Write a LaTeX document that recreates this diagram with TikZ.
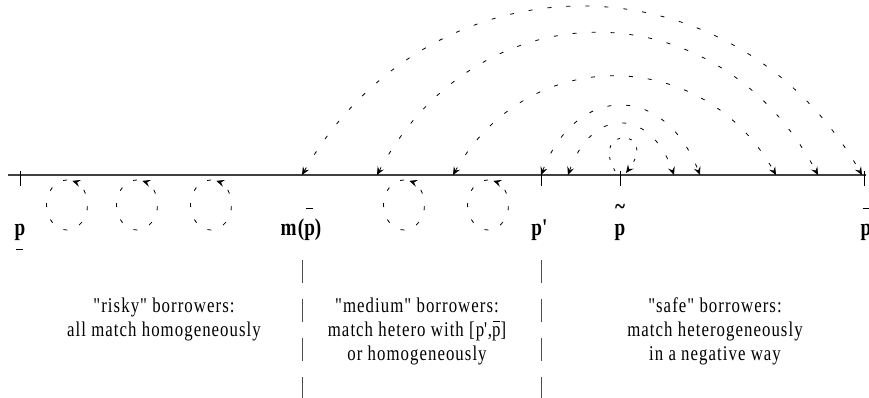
\documentclass[tikz,border=0pt]{standalone}
\usepackage{fontspec}
\setmainfont{Liberation Serif}
\newfontfamily\etroit[FakeStretch=0.8,LetterSpace=5]{Liberation Serif}
\usetikzlibrary{arrows.meta}

% accents poses loin de la lettre
\newcommand{\dessus}[2]{\ooalign{#2\cr\hidewidth\raisebox{#1}{\rule{7pt}{1.2pt}}\hidewidth\cr}}
\newcommand{\dessous}[1]{\ooalign{#1\cr\hidewidth\raisebox{-14pt}{\rule{7pt}{1.2pt}}\hidewidth\cr}}
\newcommand{\vague}[1]{\ooalign{#1\cr\hidewidth\raisebox{21pt}{\textasciitilde}\hidewidth\cr}}

\tikzset{
  pointe/.tip={Stealth[length=8pt,width=7pt,inset=3pt]},
  axe/.style={line width=1.2pt,black!75},
  cran/.style={line width=0.8pt},
  saut/.style={line width=0.8pt,dash pattern=on 4pt off 15pt,pointe-pointe},
  boucle/.style={line width=0.8pt,dash pattern=on 4pt off 13pt,-pointe},
  frontiere/.style={line width=0.8pt,black!70,dash pattern=on 23pt off 16pt},
  etiquette/.style={font=\etroit\bfseries\fontsize{24}{24}\selectfont,anchor=base,inner sep=0pt},
  texte/.style={font=\etroit\fontsize{21}{24}\selectfont,align=center,anchor=north,inner sep=0pt}
}

\begin{document}
\begin{tikzpicture}[x=1pt,y=1pt]
  \useasboundingbox (0,0) rectangle (869,398);
  \def\Y{223}

  % axe des p
  \draw[axe] (8,\Y) -- (866,\Y);
  \coordinate (pbas) at (20,\Y);
  \coordinate (mp) at (302,\Y);
  \coordinate (pprime) at (541,\Y);
  \coordinate (ptilde) at (620,\Y);
  \coordinate (phaut) at (864,\Y);
  \foreach \c in {pbas,pprime,ptilde,phaut}
    \draw[cran] (\c) ++(0,4) -- ++(0,-15);

  % etiquettes
  \node[etiquette] (lpbas) at (20,162) {\dessous{p}};
  \node[etiquette] (lmp) at (301,162) {m(\dessus{27pt}{p})};
  \node[etiquette] (lpprime) at (540,162) {p\textquotesingle};
  \node[etiquette] (lptilde) at (620,162) {\vague{p}};
  \node[etiquette] (lphaut) at (866,162) {\dessus{27pt}{p}};

  % pieds des arcs
  \coordinate (g2) at (377,\Y);
  \coordinate (g3) at (453,\Y);
  \coordinate (g5) at (568,\Y);
  \coordinate (d5) at (674,\Y);
  \coordinate (d4) at (700,\Y);
  \coordinate (d3) at (776,\Y);
  \coordinate (d2) at (818,\Y);
  \coordinate (d1) at (862,\Y);

  % arcs heterogenes
  \draw[saut] (mp) .. controls +(129,224) and +(-129,224) .. (d1);
  \draw[saut] (g2) .. controls +(101,189) and +(-101,189) .. (d2);
  \draw[saut] (g3) .. controls +(74,131) and +(-74,131) .. (d3);
  \draw[saut] (pprime) .. controls +(36,92) and +(-36,92) .. (d4);
  \draw[saut] (g5) .. controls +(24,68) and +(-24,68) .. (d5);
  \draw[boucle,dash pattern=on 3pt off 9pt] (ptilde) ++(-5,4) .. controls +(-26,45) and +(34,45) .. ++(11,-2);

  % cercles homogenes
  \draw[boucle] (67,218) arc[start angle=90,end angle=435,x radius=20.5,y radius=25];
  \draw[boucle] (137,218) arc[start angle=90,end angle=435,x radius=20.5,y radius=25];
  \draw[boucle] (211,218) arc[start angle=90,end angle=435,x radius=20.5,y radius=25];
  \draw[boucle] (404,218) arc[start angle=90,end angle=435,x radius=20.5,y radius=25];
  \draw[boucle] (488,218) arc[start angle=90,end angle=435,x radius=20.5,y radius=25];

  % frontieres
  \draw[frontiere] (302,138) -- (302,0);
  \draw[frontiere] (541,138) -- (541,0);

  % zones
  \node[texte] (risque) at (164,100) {"risky" borrowers:\\all match homogeneously};
  \node[texte] (moyen) at (417,100) {"medium" borrowers:\\match hetero with [p\textquotesingle,\dessus{15pt}{p}]\\or homogeneously};
  \node[texte] (sur) at (715,100) {"safe" borrowers:\\match heterogeneously\\in a negative way};
\end{tikzpicture}
\end{document}
